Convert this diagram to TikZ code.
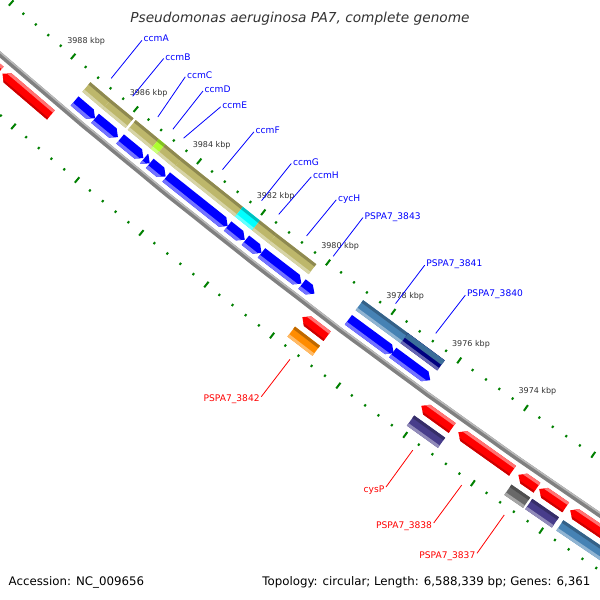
\documentclass[tikz,border=0pt]{standalone}
\usepackage{fontspec}
\setmainfont{DejaVu Sans}

\definecolor{tickgreen}{RGB}{0,128,0}
\definecolor{textgray}{RGB}{51,51,51}
\definecolor{cogkhaki}{RGB}{189,183,107}
\definecolor{coglime}{RGB}{173,255,47}
\definecolor{cogcyan}{RGB}{0,255,255}
\definecolor{cogsteel}{RGB}{70,130,180}
\definecolor{cognavy}{RGB}{0,0,128}
\definecolor{cogorange}{RGB}{255,140,0}
\definecolor{cogslate}{RGB}{72,61,139}
\definecolor{coggray}{RGB}{105,105,105}

% angle of a position in kbp on the map circle
\newcommand{\ang}[1]{229.54+(3988-(#1))*0.3766}

% reverse strand gene: #1 tail (kbp), #2 tip (kbp)
\newcommand{\revgene}[2]{%
  \pgfmathsetmacro{\kh}{min(#2+0.16,#1)}
  \fill[rev] ({\ang{#1}}:6259) -- ({\ang{\kh}}:6259) -- ({\ang{#2}}:6265) -- ({\ang{\kh}}:6271) -- ({\ang{#1}}:6271) -- cycle;
  \begin{scope}
    \clip ({\ang{#1}}:6259) -- ({\ang{\kh}}:6259) -- ({\ang{#2}}:6265) -- ({\ang{\kh}}:6271) -- ({\ang{#1}}:6271) -- cycle;
    \fill[revlight] ({\ang{#1}}:6267.5) -- ({\ang{#2}}:6267.5) -- ({\ang{#2}}:6272) -- ({\ang{#1}}:6272) -- cycle;
  \end{scope}}

% forward strand gene: #1 tip (kbp), #2 tail (kbp)
\newcommand{\fwdgene}[2]{%
  \pgfmathsetmacro{\kh}{max(#1-0.16,#2)}
  \fill[fwd] ({\ang{#2}}:6285) -- ({\ang{\kh}}:6285) -- ({\ang{#1}}:6291) -- ({\ang{\kh}}:6297) -- ({\ang{#2}}:6297) -- cycle;
  \begin{scope}
    \clip ({\ang{#2}}:6285) -- ({\ang{\kh}}:6285) -- ({\ang{#1}}:6291) -- ({\ang{\kh}}:6297) -- ({\ang{#2}}:6297) -- cycle;
    \fill[fwdlight] ({\ang{#2}}:6284) -- ({\ang{#1}}:6284) -- ({\ang{#1}}:6288) -- ({\ang{#2}}:6288) -- cycle;
    \fill[fwddark] ({\ang{#2}}:6295) -- ({\ang{#1}}:6295) -- ({\ang{#1}}:6298) -- ({\ang{#2}}:6298) -- cycle;
  \end{scope}}

% COG bar: #1 inner radius, #2 left (kbp), #3 right (kbp), #4 colour
\newcommand{\cogbar}[4]{%
  \fill[#4] ({\ang{#2}}:#1) -- ({\ang{#3}}:#1) -- ({\ang{#3}}:{#1+12.5}) -- ({\ang{#2}}:{#1+12.5}) -- cycle;
  \fill[#4!75!black] ({\ang{#2}}:#1) -- ({\ang{#3}}:#1) -- ({\ang{#3}}:{#1+3}) -- ({\ang{#2}}:{#1+3}) -- cycle;
  \fill[#4!60!white] ({\ang{#2}}:{#1+9.5}) -- ({\ang{#3}}:{#1+9.5}) -- ({\ang{#3}}:{#1+12.5}) -- ({\ang{#2}}:{#1+12.5}) -- cycle;}

\tikzset{
  rev/.style={fill=blue},
  revlight/.style={fill=blue!55!white},
  fwd/.style={fill=red},
  fwdlight/.style={fill=red!55!white},
  fwddark/.style={fill=red!80!black},
  bigtick/.style={draw=tickgreen, line width=2pt},
  smalltick/.style={draw=tickgreen, line width=2pt},
  ticklbl/.style={text=textgray, font=\fontsize{8}{9}\selectfont, inner sep=0pt},
  bluelbl/.style={text=blue, font=\fontsize{9.1}{11}\selectfont, inner sep=1.5pt, anchor=base west},
  redlbl/.style={text=red, font=\fontsize{9.1}{11}\selectfont, inner sep=1.5pt, anchor=base east},
  bluelead/.style={draw=blue, line width=0.8pt},
  redlead/.style={draw=red, line width=0.8pt},
}

\begin{document}
\begin{tikzpicture}[x=1pt,y=1pt]
\useasboundingbox (0,-600) rectangle (600,0);
\fill[white] (0,-600) rectangle (600,0);
\begin{scope}
\clip (0,-600) rectangle (600,0);

\begin{scope}[shift={(4117,4685)}]
  % ticks
  \foreach \i in {0,...,57}{
    \pgfmathsetmacro{\k}{3968+0.4*\i}
    \pgfmathtruncatemacro{\big}{mod(\i,5)==0}
    \ifnum\big=1
      \draw[bigtick] ({\ang{\k}}:6228.5) -- ({\ang{\k}}:6235.5);
      \draw[bigtick] ({\ang{\k}}:6320.5) -- ({\ang{\k}}:6327.5);
    \else
      \draw[smalltick] ({\ang{\k}}:6230.8) -- ({\ang{\k}}:6233.2);
      \draw[smalltick] ({\ang{\k}}:6322.8) -- ({\ang{\k}}:6325.2);
    \fi
  }
  \foreach \k in {3974,3976,...,3988}
    \node[ticklbl] (t\k) at ({\ang{\k}}:6212) {\k\ kbp};

  % backbone
  \draw[line width=5pt, gray] plot[domain=3966:3992, samples=60] ({\ang{\x}}:6278);
  \draw[line width=1.5pt, gray!55] plot[domain=3966:3992, samples=60] ({\ang{\x}}:6276.3);

  % COG track of the reverse strand
  \cogbar{6240.5}{3987.27}{3986.62}{cogkhaki}
  \cogbar{6240.5}{3986.62}{3985.90}{cogkhaki}
  \cogbar{6240.5}{3985.83}{3985.10}{cogkhaki}
  \cogbar{6240.5}{3985.10}{3984.90}{coglime}
  \cogbar{6240.5}{3984.90}{3984.38}{cogkhaki}
  \cogbar{6240.5}{3984.38}{3982.47}{cogkhaki}
  \cogbar{6240.5}{3982.47}{3981.94}{cogcyan}
  \cogbar{6240.5}{3981.94}{3981.42}{cogkhaki}
  \cogbar{6240.5}{3981.42}{3980.20}{cogkhaki}
  \cogbar{6240.5}{3978.76}{3977.40}{cogsteel}
  \cogbar{6240.5}{3977.40}{3976.29}{cognavy}
  \fill[cogsteel!85!black] ({\ang{3977.40}}:6240.5) -- ({\ang{3976.29}}:6240.5) -- ({\ang{3976.29}}:6246) -- ({\ang{3977.40}}:6246) -- cycle;

  % reverse strand genes
  \revgene{3987.27}{3986.62}
  \revgene{3986.62}{3985.90}
  \revgene{3985.83}{3985.10}
  \revgene{3985.08}{3984.90}
  \revgene{3984.90}{3984.40}
  \revgene{3984.38}{3982.47}
  \revgene{3982.47}{3981.94}
  \revgene{3981.92}{3981.42}
  \revgene{3981.42}{3980.20}
  \revgene{3980.18}{3979.80}
  \revgene{3978.76}{3977.39}
  \revgene{3977.42}{3976.29}

  % forward strand genes
  \fwdgene{3990.60}{3989.12}
  \fwdgene{3989.03}{3987.49}
  \fwdgene{3979.69}{3978.93}
  \fwdgene{3976.10}{3975.18}
  \fwdgene{3975.00}{3973.39}
  \fwdgene{3973.22}{3972.67}
  \fwdgene{3972.61}{3971.83}
  \fwdgene{3971.70}{3970.20}

  % COG track of the forward strand
  \cogbar{6303}{3979.69}{3978.93}{cogorange}
  \cogbar{6303}{3976.10}{3975.18}{cogslate}
  \cogbar{6303}{3973.22}{3972.67}{coggray}
  \cogbar{6303}{3972.61}{3971.83}{cogslate}
  \cogbar{6303}{3971.70}{3970.20}{cogsteel}

  % label anchors on the genes
  \coordinate (ccmA-p) at ({\ang{3986.945}}:6224);
  \coordinate (ccmB-p) at ({\ang{3986.26}}:6224);
  \coordinate (ccmC-p) at ({\ang{3985.465}}:6224);
  \coordinate (ccmD-p) at ({\ang{3984.99}}:6224);
  \coordinate (ccmE-p) at ({\ang{3984.65}}:6224);
  \coordinate (ccmF-p) at ({\ang{3983.425}}:6224);
  \coordinate (ccmG-p) at ({\ang{3982.205}}:6224);
  \coordinate (ccmH-p) at ({\ang{3981.67}}:6224);
  \coordinate (cycH-p) at ({\ang{3980.81}}:6224);
  \coordinate (g3843-p) at ({\ang{3979.99}}:6224);
  \coordinate (g3841-p) at ({\ang{3978.075}}:6224);
  \coordinate (g3840-p) at ({\ang{3976.855}}:6224);
  \coordinate (g3842-p) at ({\ang{3979.31}}:6332);
  \coordinate (cysP-p) at ({\ang{3975.64}}:6332);
  \coordinate (g3838-p) at ({\ang{3974.195}}:6332);
  \coordinate (g3837-p) at ({\ang{3972.945}}:6332);
\end{scope}

\node[bluelbl] (ccmA) at (142,-41.8) {ccmA};
\node[bluelbl] (ccmB) at (163.7,-60) {ccmB};
\node[bluelbl] (ccmC) at (185.3,-78.3) {ccmC};
\node[bluelbl] (ccmD) at (203,-92.5) {ccmD};
\node[bluelbl] (ccmE) at (220.7,-108.3) {ccmE};
\node[bluelbl] (ccmF) at (254,-133.3) {ccmF};
\node[bluelbl] (ccmG) at (291.3,-165) {ccmG};
\node[bluelbl] (ccmH) at (311.3,-178.3) {ccmH};
\node[bluelbl] (cycH) at (336.3,-201.3) {cycH};
\node[bluelbl] (g3843) at (363,-219) {PSPA7\_3843};
\node[bluelbl] (g3841) at (424.7,-266.7) {PSPA7\_3841};
\node[bluelbl] (g3840) at (465.3,-296.7) {PSPA7\_3840};
\node[redlbl] (g3842) at (261.3,-401.7) {PSPA7\_3842};
\node[redlbl] (cysP) at (386,-492) {cysP};
\node[redlbl] (g3838) at (433.7,-528) {PSPA7\_3838};
\node[redlbl] (g3837) at (477,-558.3) {PSPA7\_3837};

\foreach \g in {ccmA,ccmB,ccmC,ccmD,ccmE,ccmF,ccmG,ccmH,cycH,g3843,g3841,g3840}
  \draw[bluelead] (\g-p) -- ([yshift=1.5pt]\g.base west);
\foreach \g in {g3842,cysP,g3838,g3837}
  \draw[redlead] (\g-p) -- ([yshift=5pt]\g.base east);
\end{scope}

\node[text=textgray, font=\fontsize{13.7}{16}\selectfont\itshape, anchor=base, inner sep=0pt] (title) at (300,-22.7) {Pseudomonas aeruginosa PA7, complete genome};
\node[font=\fontsize{11.8}{14}\selectfont, anchor=base west, inner sep=0pt] (accession) at (8.5,-585.5) {Accession: NC\_009656};
\node[font=\fontsize{11.8}{14}\selectfont, anchor=base east, inner sep=0pt] (topology) at (590.5,-585.5) {Topology: circular; Length: 6,588,339 bp; Genes: 6,361};
\end{tikzpicture}
\end{document}
